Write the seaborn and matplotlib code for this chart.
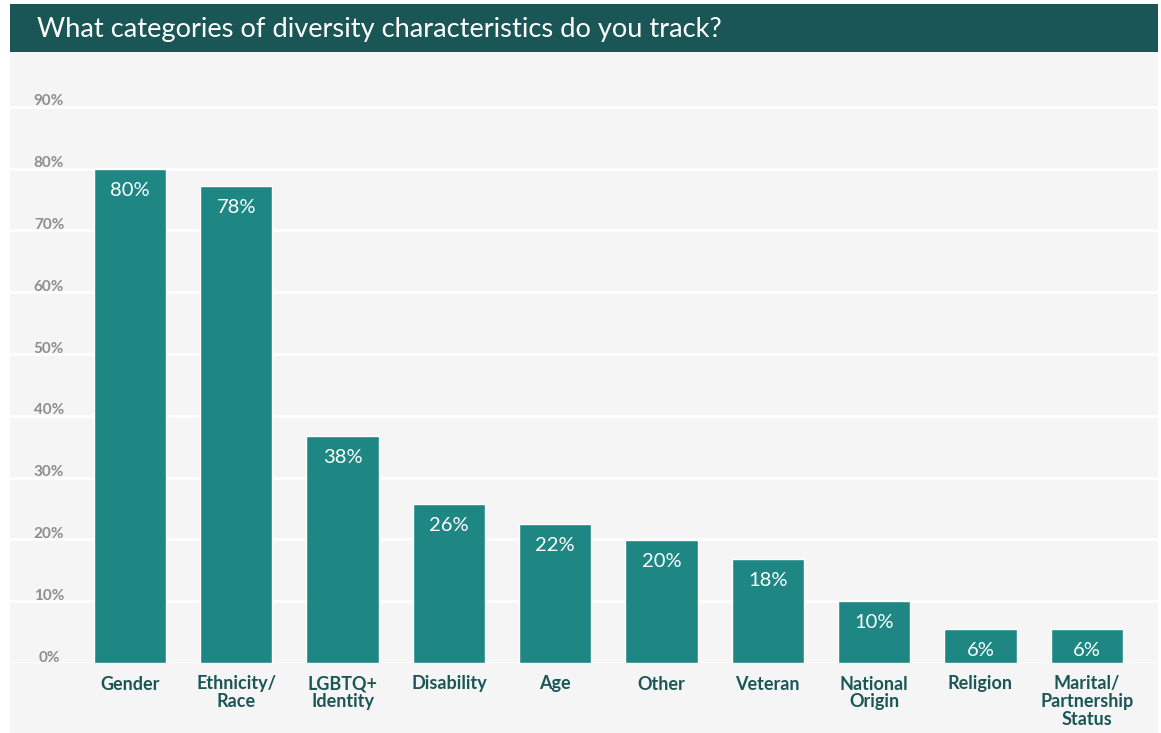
import pandas as pd
import matplotlib.pyplot as plt
import seaborn as sns
from matplotlib.patches import Rectangle
import matplotlib.transforms as mtransforms

# Dados do gráfico
categorias = ["Gender", "Ethnicity/\nRace", "LGBTQ+\nIdentity", "Disability", "Age",
              "Other", "Veteran", "National\nOrigin", "Religion",
              "Marital/\nPartnership\nStatus"]
valores = [80, 77.2, 36.7, 25.7, 22.5, 19.9, 16.8, 10.0, 5.5, 5.5]
rotulos = ["80%", "78%", "38%", "26%", "22%", "20%", "18%", "10%", "6%", "6%"]
ticks_y = [0, 10, 20, 30, 40, 50, 60, 70, 80, 90]
titulo = "What categories of diversity characteristics do you track?"

df = pd.DataFrame({"categoria": categorias, "valor": valores})

cor_barra = "#1e8784"
cor_escura = "#1b5656"
cor_fundo = "#f5f5f5"

sns.set_style("white")
plt.rcParams['font.family'] = ['Lato', 'DejaVu Sans']

W, H = 1161, 733
fig = plt.figure(figsize=(W / 100, H / 100), dpi=100, facecolor="white")

# Painel cinza e faixa do título
fig.patches.append(Rectangle((10 / W, 0), 1148 / W, 1 - 52 / H, transform=fig.transFigure,
                             facecolor=cor_fundo, edgecolor="none", zorder=-2))
fig.patches.append(Rectangle((10 / W, 1 - 52 / H), 1148 / W, 48 / H, transform=fig.transFigure,
                             facecolor=cor_escura, edgecolor="none", zorder=-2))
fig.text(37 / W, 1 - 29 / H, titulo, color="white", fontsize=19.6, va="center", ha="left")

# Eixos
ax = fig.add_axes([10 / W, 1 - 663 / H, 1148 / W, (663 - 52) / H])
ax.set_facecolor("none")
sns.barplot(data=df, x="categoria", y="valor", color=cor_barra, width=0.68,
            saturation=1, ax=ax, zorder=3)

esp = 106.3
xmin = -(130 - 10) / esp
ax.set_xlim(xmin, xmin + 1148 / esp)
ax.set_ylim(0, (663 - 52) / 61.8 * 10)

for t in ticks_y:
    ax.axhline(t, color="white", lw=2, zorder=1)

trans = mtransforms.blended_transform_factory(ax.transAxes, ax.transData)
for t in ticks_y:
    ax.text((49 - 10) / 1148, t - 0.25, f"{t}%", transform=trans, ha="center", va="bottom",
            color="#8e8e8e", fontsize=11, fontweight="bold")

# Rótulos de valor
for i, (v, r) in enumerate(zip(valores, rotulos)):
    ax.text(i, v - 3.5, r, ha="center", va="center", color="white", fontsize=14.5, zorder=4)

ax.set_yticks([])
ax.set_xlabel("")
ax.set_ylabel("")
ax.tick_params(axis="x", length=0, pad=9)
for lbl in ax.get_xticklabels():
    lbl.set_fontweight("bold")
    lbl.set_color(cor_escura)
    lbl.set_fontsize(13)
    lbl.set_linespacing(1.05)
for s in ax.spines.values():
    s.set_visible(False)

plt.savefig("out.png", dpi=100, facecolor="white")
